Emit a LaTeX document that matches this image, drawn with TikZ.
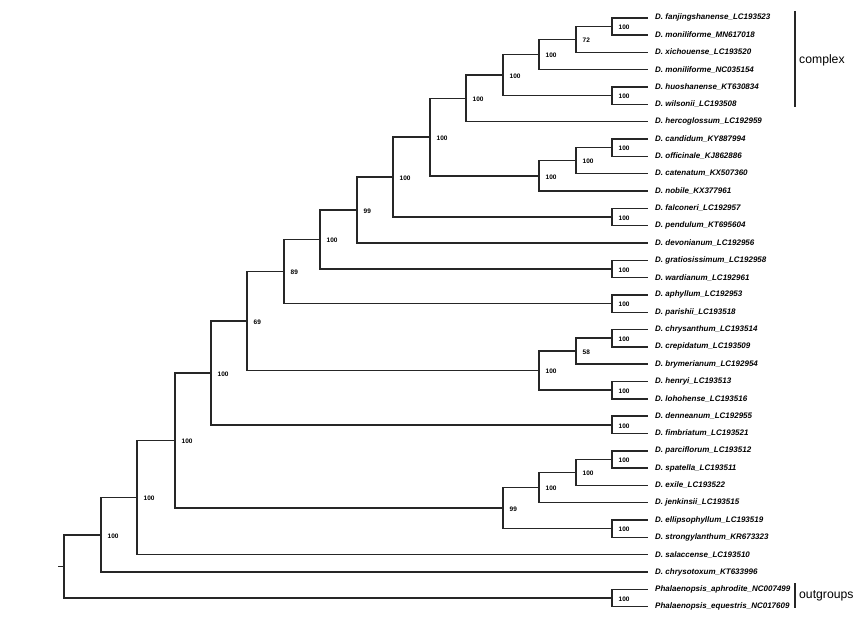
\documentclass[tikz,border=0pt]{standalone}
\usepackage{fontspec}
\setmainfont{Liberation Sans}
\begin{document}
\begin{tikzpicture}[x=1pt,y=-1pt,
  br/.style={line width=1.45pt,draw=black!85,line cap=rect,line join=miter},
  tiplab/.style={anchor=west,inner xsep=8pt,inner ysep=0pt,font=\fontsize{8}{9}\selectfont\bfseries\itshape},
  suplab/.style={anchor=west,inner sep=0pt,xshift=6.5pt,yshift=-1pt,font=\fontsize{6.5}{7}\selectfont\bfseries},
  grouplab/.style={anchor=west,inner sep=0pt,font=\fontsize{12.2}{14}\selectfont},
  groupbar/.style={line width=1.4pt,draw=black!85}]
\useasboundingbox (0,0) rectangle (864,618);
% tips
\node[tiplab] (t1) at (647,17.80) {D. fanjingshanense\_LC193523};
\node[tiplab] (t2) at (647,35.12) {D. moniliforme\_MN617018};
\node[tiplab] (t3) at (647,52.44) {D. xichouense\_LC193520};
\node[tiplab] (t4) at (647,69.76) {D. moniliforme\_NC035154};
\node[tiplab] (t5) at (647,87.08) {D. huoshanense\_KT630834};
\node[tiplab] (t6) at (647,104.40) {D. wilsonii\_LC193508};
\node[tiplab] (t7) at (647,121.72) {D. hercoglossum\_LC192959};
\node[tiplab] (t8) at (647,139.04) {D. candidum\_KY887994};
\node[tiplab] (t9) at (647,156.36) {D. officinale\_KJ862886};
\node[tiplab] (t10) at (647,173.68) {D. catenatum\_KX507360};
\node[tiplab] (t11) at (647,191.00) {D. nobile\_KX377961};
\node[tiplab] (t12) at (647,208.32) {D. falconeri\_LC192957};
\node[tiplab] (t13) at (647,225.64) {D. pendulum\_KT695604};
\node[tiplab] (t14) at (647,242.96) {D. devonianum\_LC192956};
\node[tiplab] (t15) at (647,260.28) {D. gratiosissimum\_LC192958};
\node[tiplab] (t16) at (647,277.60) {D. wardianum\_LC192961};
\node[tiplab] (t17) at (647,294.92) {D. aphyllum\_LC192953};
\node[tiplab] (t18) at (647,312.24) {D. parishii\_LC193518};
\node[tiplab] (t19) at (647,329.56) {D. chrysanthum\_LC193514};
\node[tiplab] (t20) at (647,346.88) {D. crepidatum\_LC193509};
\node[tiplab] (t21) at (647,364.20) {D. brymerianum\_LC192954};
\node[tiplab] (t22) at (647,381.52) {D. henryi\_LC193513};
\node[tiplab] (t23) at (647,398.84) {D. lohohense\_LC193516};
\node[tiplab] (t24) at (647,416.16) {D. denneanum\_LC192955};
\node[tiplab] (t25) at (647,433.48) {D. fimbriatum\_LC193521};
\node[tiplab] (t26) at (647,450.80) {D. parciflorum\_LC193512};
\node[tiplab] (t27) at (647,468.12) {D. spatella\_LC193511};
\node[tiplab] (t28) at (647,485.44) {D. exile\_LC193522};
\node[tiplab] (t29) at (647,502.76) {D. jenkinsii\_LC193515};
\node[tiplab] (t30) at (647,520.08) {D. ellipsophyllum\_LC193519};
\node[tiplab] (t31) at (647,537.40) {D. strongylanthum\_KR673323};
\node[tiplab] (t32) at (647,554.72) {D. salaccense\_LC193510};
\node[tiplab] (t33) at (647,572.04) {D. chrysotoxum\_KT633996};
\node[tiplab] (t34) at (647,589.36) {Phalaenopsis\_aphrodite\_NC007499};
\node[tiplab] (t35) at (647,606.68) {Phalaenopsis\_equestris\_NC017609};
% internal nodes
\coordinate (a1) at (612,26.46);
\coordinate (a2) at (576,39.45);
\coordinate (a3) at (539,54.61);
\coordinate (a4) at (612,95.74);
\coordinate (a5) at (503,75.17);
\coordinate (a6) at (466,98.45);
\coordinate (b1) at (612,147.70);
\coordinate (b2) at (576,160.69);
\coordinate (b3) at (539,175.85);
\coordinate (a7) at (430,137.15);
\coordinate (c1) at (612,216.98);
\coordinate (a8) at (393,177.07);
\coordinate (a9) at (357,210.01);
\coordinate (d1) at (612,268.94);
\coordinate (a10) at (320,239.48);
\coordinate (e1) at (612,303.58);
\coordinate (a11) at (284,271.53);
\coordinate (f1) at (612,338.22);
\coordinate (f2) at (576,351.21);
\coordinate (f3) at (612,390.18);
\coordinate (f4) at (539,370.70);
\coordinate (a12) at (247,321.11);
\coordinate (g1) at (612,424.82);
\coordinate (a13) at (211,372.97);
\coordinate (h1) at (612,459.46);
\coordinate (h2) at (576,472.45);
\coordinate (h3) at (539,487.61);
\coordinate (h4) at (612,528.74);
\coordinate (h5) at (503,508.17);
\coordinate (a14) at (175,440.57);
\coordinate (a15) at (137,497.65);
\coordinate (a16) at (101,534.84);
\coordinate (o1) at (612,598.02);
\coordinate (root) at (64,566.43);
\coordinate (stub) at (59,566.43);
% branches
\draw[br] (a1) |- (t1.west); \draw[br] (a1) |- (t2.west);
\draw[br] (a2) |- (a1); \draw[br] (a2) |- (t3.west);
\draw[br] (a3) |- (a2); \draw[br] (a3) |- (t4.west);
\draw[br] (a4) |- (t5.west); \draw[br] (a4) |- (t6.west);
\draw[br] (a5) |- (a3); \draw[br] (a5) |- (a4);
\draw[br] (a6) |- (a5); \draw[br] (a6) |- (t7.west);
\draw[br] (b1) |- (t8.west); \draw[br] (b1) |- (t9.west);
\draw[br] (b2) |- (b1); \draw[br] (b2) |- (t10.west);
\draw[br] (b3) |- (b2); \draw[br] (b3) |- (t11.west);
\draw[br] (a7) |- (a6); \draw[br] (a7) |- (b3);
\draw[br] (c1) |- (t12.west); \draw[br] (c1) |- (t13.west);
\draw[br] (a8) |- (a7); \draw[br] (a8) |- (c1);
\draw[br] (a9) |- (a8); \draw[br] (a9) |- (t14.west);
\draw[br] (d1) |- (t15.west); \draw[br] (d1) |- (t16.west);
\draw[br] (a10) |- (a9); \draw[br] (a10) |- (d1);
\draw[br] (e1) |- (t17.west); \draw[br] (e1) |- (t18.west);
\draw[br] (a11) |- (a10); \draw[br] (a11) |- (e1);
\draw[br] (f1) |- (t19.west); \draw[br] (f1) |- (t20.west);
\draw[br] (f2) |- (f1); \draw[br] (f2) |- (t21.west);
\draw[br] (f3) |- (t22.west); \draw[br] (f3) |- (t23.west);
\draw[br] (f4) |- (f2); \draw[br] (f4) |- (f3);
\draw[br] (a12) |- (a11); \draw[br] (a12) |- (f4);
\draw[br] (g1) |- (t24.west); \draw[br] (g1) |- (t25.west);
\draw[br] (a13) |- (a12); \draw[br] (a13) |- (g1);
\draw[br] (h1) |- (t26.west); \draw[br] (h1) |- (t27.west);
\draw[br] (h2) |- (h1); \draw[br] (h2) |- (t28.west);
\draw[br] (h3) |- (h2); \draw[br] (h3) |- (t29.west);
\draw[br] (h4) |- (t30.west); \draw[br] (h4) |- (t31.west);
\draw[br] (h5) |- (h3); \draw[br] (h5) |- (h4);
\draw[br] (a14) |- (a13); \draw[br] (a14) |- (h5);
\draw[br] (a15) |- (a14); \draw[br] (a15) |- (t32.west);
\draw[br] (a16) |- (a15); \draw[br] (a16) |- (t33.west);
\draw[br] (o1) |- (t34.west); \draw[br] (o1) |- (t35.west);
\draw[br] (root) |- (a16); \draw[br] (root) |- (o1);
\draw[br] (stub) -- (root);
% support values
\node[suplab] (s-a1) at (a1) {100};
\node[suplab] (s-a2) at (a2) {72};
\node[suplab] (s-a3) at (a3) {100};
\node[suplab] (s-a4) at (a4) {100};
\node[suplab] (s-a5) at (a5) {100};
\node[suplab] (s-a6) at (a6) {100};
\node[suplab] (s-b1) at (b1) {100};
\node[suplab] (s-b2) at (b2) {100};
\node[suplab] (s-b3) at (b3) {100};
\node[suplab] (s-a7) at (a7) {100};
\node[suplab] (s-c1) at (c1) {100};
\node[suplab] (s-a8) at (a8) {100};
\node[suplab] (s-a9) at (a9) {99};
\node[suplab] (s-d1) at (d1) {100};
\node[suplab] (s-a10) at (a10) {100};
\node[suplab] (s-e1) at (e1) {100};
\node[suplab] (s-a11) at (a11) {89};
\node[suplab] (s-f1) at (f1) {100};
\node[suplab] (s-f2) at (f2) {58};
\node[suplab] (s-f3) at (f3) {100};
\node[suplab] (s-f4) at (f4) {100};
\node[suplab] (s-a12) at (a12) {69};
\node[suplab] (s-g1) at (g1) {100};
\node[suplab] (s-a13) at (a13) {100};
\node[suplab] (s-h1) at (h1) {100};
\node[suplab] (s-h2) at (h2) {100};
\node[suplab] (s-h3) at (h3) {100};
\node[suplab] (s-h4) at (h4) {100};
\node[suplab] (s-h5) at (h5) {99};
\node[suplab] (s-a14) at (a14) {100};
\node[suplab] (s-a15) at (a15) {100};
\node[suplab] (s-a16) at (a16) {100};
\node[suplab] (s-o1) at (o1) {100};
% group bars
\coordinate (cxtop) at (795,11);
\coordinate (cxbot) at (795,107);
\draw[groupbar] (cxtop) -- (cxbot);
\node[grouplab] (cxlab) at (799,60) {complex};
\coordinate (ogtop) at (795,583);
\coordinate (ogbot) at (795,608);
\draw[groupbar] (ogtop) -- (ogbot);
\node[grouplab] (oglab) at (799,596) {outgroups};
\end{tikzpicture}
\end{document}
